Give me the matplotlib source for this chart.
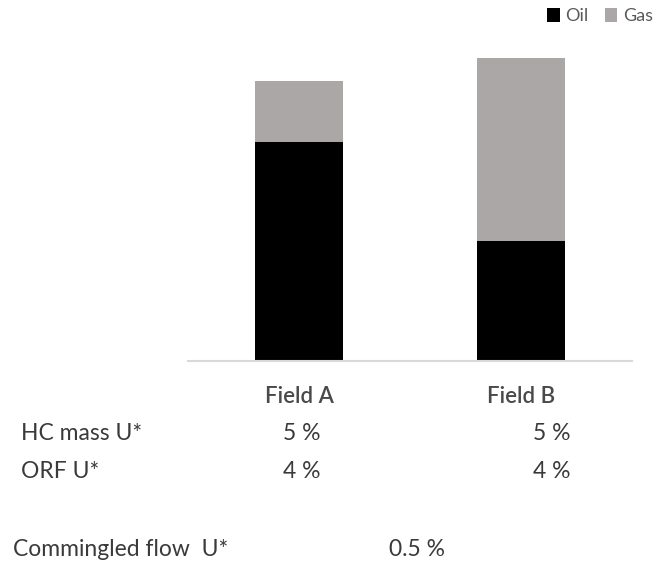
import matplotlib.pyplot as plt
from matplotlib.patches import Patch

plt.rcParams['font.family'] = ['Lato', 'DejaVu Sans']

W, H = 653, 566

fields = ["Field A", "Field B"]
oil = [219, 120]
gas = [61, 183]

hc_mass_u = ["5 %", "5 %"]
orf_u = ["4 %", "4 %"]
commingled_u = "0.5 %"

OIL_COLOR = "#000000"
GAS_COLOR = "#aba7a6"
TEXT_COLOR = "#3a3a3a"

fig = plt.figure(figsize=(W / 100, H / 100), dpi=100)

# axes placed in pixel terms: baseline at y=361, from x=188 to x=632
left, right, bottom, top = 188, 632, 361, 40
ax = fig.add_axes([left / W, 1 - bottom / H, (right - left) / W, (bottom - top) / H])

x = range(len(fields))
ax.bar(x, oil, width=0.40, color=OIL_COLOR, label="Oil")
ax.bar(x, gas, width=0.40, bottom=oil, color=GAS_COLOR, label="Gas")

ax.set_xlim(-0.5, 1.5)
ax.set_ylim(0, bottom - top)
ax.set_yticks([])
ax.set_xticks(list(x))
ax.set_xticklabels(fields, fontsize=16, color="#4a4a4a", fontweight="semibold")
ax.tick_params(axis="x", length=0, pad=18)
for s in ["top", "right", "left"]:
    ax.spines[s].set_visible(False)
ax.spines["bottom"].set_color("#d9d9d9")
ax.spines["bottom"].set_linewidth(1.5)

handles = [Patch(facecolor=OIL_COLOR, label="Oil"), Patch(facecolor=GAS_COLOR, label="Gas")]
fig.legend(handles=handles, ncol=2, frameon=False, loc="upper left",
           bbox_to_anchor=(540 / W, 1 - 1 / H), fontsize=13, labelcolor="#595959",
           handlelength=0.7, handleheight=0.8, handletextpad=0.3, columnspacing=0.9,
           borderaxespad=0)

def px(xp, yp):
    return xp / W, 1 - yp / H

# uncertainty table under the bars
kw = dict(fontsize=16.5, color=TEXT_COLOR, va="center")
fig.text(*px(21, 434), "HC mass U*", ha="left", **kw)
fig.text(*px(21, 472), "ORF U*", ha="left", **kw)
fig.text(*px(13, 549), "Commingled flow  U*", ha="left", **kw)
for xc, hc, orf in zip([302, 552], hc_mass_u, orf_u):
    fig.text(*px(xc, 434), hc, ha="center", **kw)
    fig.text(*px(xc, 472), orf, ha="center", **kw)
fig.text(*px(417, 549), commingled_u, ha="center", **kw)

fig.savefig("out.png", dpi=100)
